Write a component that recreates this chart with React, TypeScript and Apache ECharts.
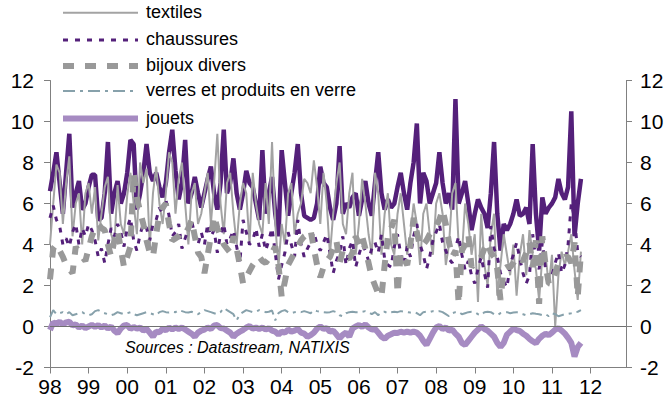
import React, { useEffect, useRef } from "react";
import * as echarts from "echarts";

const yearLabels = ["98", "99", "00", "01", "02", "03", "04", "05", "06", "07", "08", "09", "10", "11", "12"];

const legendNames = ["textiles", "chaussures", "bijoux divers", "verres et produits en verre", "jouets"];

// Monthly values, Jan 1998 - Oct 2011
const ensemble = [
  6.6, 7.5, 8.5, 7.0, 5.5, 7.5, 9.4, 5.8, 6.5, 7.1, 5.7, 6.0,
  6.8, 7.4, 7.4, 5.2, 5.3, 6.5, 9.0, 5.5, 6.5, 7.1, 6.0, 6.5,
  7.5, 9.1, 8.9, 5.7, 6.5, 7.5, 8.9, 7.5, 7.1, 7.5, 6.8, 6.3,
  7.0, 8.5, 9.6, 7.6, 6.2, 7.0, 9.1, 6.0, 6.5, 7.3, 6.5, 5.8,
  6.5, 7.2, 7.8, 6.5, 5.7, 7.0, 9.6, 6.5, 7.0, 8.2, 6.5, 5.7,
  6.5, 7.6, 7.0, 6.8, 6.0, 5.2, 8.6, 5.5, 6.5, 7.3, 5.5, 4.4,
  8.6, 7.0, 5.4, 6.5, 7.5, 8.9, 6.5, 5.4, 5.3, 5.2, 5.3, 6.0,
  7.8, 7.0, 6.8, 5.8, 5.2, 6.0, 8.8, 5.5, 6.0, 5.8, 6.3, 6.5,
  5.4, 6.2, 7.1, 6.0, 5.4, 7.0, 8.5, 6.5, 5.7, 6.2, 5.8, 6.0,
  6.8, 7.5, 6.5, 5.7, 7.0, 8.0, 9.9, 6.0, 7.5, 7.1, 6.0, 6.5,
  7.0, 8.5, 7.0, 6.0, 6.5, 5.7, 11.1, 6.0, 6.5, 7.1, 6.0, 4.7,
  5.5, 6.2, 5.8, 5.5, 4.8, 6.5, 9.0, 5.5, 3.7, 5.0, 4.7, 5.0,
  5.5, 6.2, 5.4, 5.5, 5.8, 5.0, 8.9, 5.5, 3.7, 6.3, 5.5, 5.8,
  6.0, 6.3, 7.2, 6.5, 6.2, 6.8, 10.5, 4.4, 6.0, 7.2,
];

const textiles = [
  4.0, 6.0, 7.9, 7.5, 5.0, 7.0, 8.3, 4.4, 6.0, 6.5, 4.0, 6.5,
  7.0, 5.5, 6.8, 4.2, 5.5, 6.8, 7.3, 4.5, 4.0, 6.9, 5.0, 4.5,
  6.4, 7.5, 6.0, 4.5, 8.0, 7.0, 7.7, 3.9, 6.5, 7.8, 6.0, 5.0,
  6.5, 8.5, 8.0, 5.5, 7.2, 8.0, 6.0, 4.0, 6.5, 7.0, 5.0, 5.5,
  6.5, 7.5, 5.0, 7.0, 9.4, 6.0, 4.5, 7.0, 7.5, 5.5, 4.0, 6.0,
  7.0, 6.5, 4.0, 7.5, 6.0, 5.0, 4.5, 7.0, 5.0, 9.0, 5.0, 2.9,
  5.0, 4.0, 6.5, 7.0, 4.5, 5.5, 6.0, 7.2, 7.0, 6.5, 8.1, 6.8,
  5.0, 7.5, 6.0, 3.5, 5.5, 7.0, 8.0, 5.0, 4.5, 6.5, 7.5, 3.5,
  5.0, 7.2, 6.0, 4.5, 3.5, 7.5, 6.5, 3.5, 5.5, 6.5, 4.0, 3.5,
  5.5, 6.5, 5.0, 3.5, 4.5, 6.0, 5.0, 3.0, 5.5, 6.0, 4.5, 3.5,
  6.0, 6.5, 5.5, 3.0, 4.0, 6.5, 7.0, 4.0, 3.5, 6.0, 5.0, 3.5,
  4.5, 1.2, 5.5, 3.0, 2.0, 4.5, 5.5, 1.5, 3.0, 4.5, 3.5, 2.5,
  4.0, 1.5, 3.5, 4.5, 2.5, 4.7, 3.5, 2.8, 1.3, 3.4, 3.5, 2.0,
  3.5, 0.0, 2.5, 3.65, 3.0, 3.65, 4.5, 2.75, 1.3, 3.65,
];

const chaussures = [
  5.3, 5.9, 5.2, 4.9, 4.0, 4.3, 3.9, 4.6, 5.0, 4.0, 4.8, 4.4,
  5.0, 4.7, 4.2, 3.4, 3.8, 3.1, 4.0, 4.8, 4.4, 5.0, 4.6, 3.9,
  4.8, 5.3, 4.2, 3.7, 4.5, 5.0, 4.8, 4.2, 5.0, 5.2, 5.8, 5.5,
  6.2, 5.4, 4.4, 4.6, 5.0, 3.8, 4.3, 4.8, 5.2, 4.4, 4.0, 4.6,
  4.0, 5.0, 4.4, 4.7, 3.6, 4.5, 5.0, 4.0, 4.3, 4.7, 3.9, 3.1,
  5.2, 4.6, 4.0, 4.2, 4.8, 3.9, 4.5, 3.7, 4.2, 4.8, 3.6, 2.3,
  3.0, 3.6, 4.6, 4.0, 3.4, 5.2, 4.0, 3.4, 3.8, 4.1, 4.6, 4.0,
  3.7, 4.1, 4.5, 3.6, 2.6, 3.2, 3.6, 4.4, 3.0, 3.8, 4.2, 2.9,
  3.5, 4.0, 3.7, 3.2, 3.8, 4.1, 3.6, 4.5, 3.3, 3.0, 2.9, 3.9,
  4.5, 3.5, 3.0, 3.9, 3.4, 4.4, 5.0, 4.0, 3.5, 2.8, 3.4, 4.2,
  4.6, 5.0, 4.1, 3.7, 3.3, 3.1, 3.8, 4.4, 3.5, 2.75, 3.2, 2.5,
  2.1, 2.8, 3.4, 2.6, 1.9, 4.9, 3.8, 3.4, 2.6, 2.2, 1.9, 3.0,
  3.5, 4.1, 3.3, 2.6, 2.1, 2.5, 4.5, 3.2, 2.8, 4.1, 2.8, 2.3,
  2.5, 3.1, 3.6, 2.6, 3.0, 4.0, 6.0, 5.3, 3.6, 3.4,
];

const bijoux = [
  2.3, 3.8, 4.0, 3.7, 3.4, 3.0, 2.8, 2.6, 3.9, 3.6, 3.4, 3.2,
  3.8, 4.4, 4.8, 5.0, 4.8, 4.7, 4.0, 3.4, 4.2, 4.7, 3.8, 2.9,
  3.4, 3.9, 7.5, 6.3, 5.6, 5.0, 4.2, 3.6, 3.4, 4.5, 5.5, 5.8,
  6.0, 5.0, 4.2, 4.3, 4.4, 4.6, 4.5, 4.8, 5.2, 4.4, 3.6, 3.4,
  2.6, 3.5, 4.4, 5.4, 4.8, 4.4, 4.0, 3.8, 3.6, 4.4, 3.8, 3.0,
  2.1, 2.4, 2.7, 3.0, 3.2, 3.4, 3.2, 3.1, 3.3, 3.6, 3.9, 3.0,
  1.45, 2.2, 3.0, 3.3, 3.6, 3.9, 4.2, 4.4, 4.5, 4.7, 3.8, 3.0,
  2.4, 2.9, 3.2, 3.4, 3.8, 4.2, 3.1, 3.7, 3.4, 3.3, 3.6, 4.4,
  4.0, 4.4, 3.8, 3.1, 2.4, 2.0, 1.6, 1.45, 3.0, 4.4, 4.8, 5.2,
  1.6, 3.6, 3.3, 3.0, 4.0, 5.3, 4.6, 3.9, 4.0, 4.2, 4.5, 4.7,
  4.9, 5.2, 5.7, 5.0, 4.1, 3.4, 3.7, 1.1, 3.7, 4.0, 4.5, 2.9,
  3.1, 3.2, 3.4, 3.8, 4.1, 3.6, 3.4, 2.8, 1.3, 2.8, 2.9, 2.9,
  3.1, 3.4, 3.3, 3.2, 3.6, 4.1, 2.9, 4.2, 1.1, 4.4, 3.0, 2.1,
  2.1, 2.6, 3.1, 3.3, 3.4, 3.4, 3.1, 4.1, 1.45, 3.6,
];

const verres = [
  0.45, 0.8, 0.6, 0.65, 0.7, 0.6, 0.7, 0.55, 0.6, 0.65, 0.7, 0.6,
  0.55, 0.6, 0.75, 0.8, 0.7, 0.65, 0.6, 0.55, 0.6, 0.7, 0.65, 0.6,
  0.65, 0.7, 0.6, 0.55, 0.6, 0.65, 0.7, 0.65, 0.6, 0.55, 0.7, 0.75,
  0.7, 0.68, 0.72, 0.7, 0.8, 0.75, 0.7, 0.68, 0.72, 0.65, 0.6, 0.7,
  0.8, 0.75, 0.7, 0.65, 0.6, 0.7, 0.9, 0.8, 0.7, 0.6, 0.3, 0.6,
  0.7, 0.8, 0.75, 0.7, 0.72, 0.8, 0.75, 0.7, 0.72, 0.78, 0.3, 0.65,
  0.75, 0.8, 0.7, 0.65, 0.7, 0.72, 0.7, 0.75, 0.7, 0.65, 0.8, 0.75,
  0.72, 0.7, 0.68, 0.7, 0.75, 0.7, 0.55, 0.5, 0.65, 0.7, 0.72, 0.7,
  0.7, 0.72, 0.75, 0.7, 0.6, 0.7, 0.55, 0.7, 0.72, 0.65, 0.7, 0.72,
  0.7, 0.75, 0.72, 0.7, 0.68, 0.7, 0.65, 0.55, 0.7, 0.72, 0.7, 0.75,
  0.72, 0.75, 0.7, 0.6, 0.5, 0.65, 0.7, 0.72, 0.6, 0.65, 0.7, 0.72,
  0.7, 0.6, 0.55, 0.7, 0.72, 0.7, 0.6, 0.55, 0.65, 0.68, 0.7, 0.65,
  0.68, 0.7, 0.65, 0.6, 0.55, 0.6, 0.65, 0.62, 0.6, 0.55, 0.6, 0.5,
  0.65, 0.6, 0.5, 0.55, 0.6, 0.62, 0.65, 0.7, 0.72, 0.8,
];

const jouets = [
  -0.17, 0.2, 0.12, 0.23, 0.1, 0.2, 0.23, 0.05, 0.1, -0.05, 0.05, -0.08,
  0.0, 0.08, -0.02, 0.07, -0.05, 0.05, -0.1, 0.0, -0.2, -0.33, -0.1, 0.05,
  0.07, -0.12, -0.02, -0.1, -0.05, -0.2, -0.12, -0.3, -0.5, -0.25, -0.28, -0.12,
  -0.18, -0.05, -0.15, -0.05, -0.12, -0.05, -0.15, -0.25, -0.35, -0.5, -0.3, -0.2,
  -0.15, -0.05, -0.12, 0.05, 0.07, -0.08, -0.1, -0.2, -0.3, -0.5, -0.35, -0.25,
  -0.17, -0.05, 0.02, -0.1, -0.05, -0.12, -0.05, -0.15, -0.08, -0.2, -0.25, -0.4,
  -0.25, -0.3, -0.15, -0.25, -0.2, -0.12, -0.3, -0.35, -0.5, -0.42, -0.3, -0.1,
  0.0, -0.12, -0.08, -0.25, -0.2, -0.38, -0.58, -0.4, -0.3, -0.5, -0.1, 0.0,
  0.07, -0.02, 0.1, -0.05, -0.15, -0.12, -0.3, -0.5, -0.6, -0.45, -0.38, -0.3,
  -0.32, -0.25, -0.3, -0.25, -0.3, -0.25, -0.3, -0.45, -0.7, -0.9, -0.6, -0.3,
  -0.05, 0.02, -0.12, -0.05, -0.2, -0.15, -0.35, -0.5, -0.8, -0.9, -0.7, -0.5,
  -0.3, -0.15, 0.0, -0.12, -0.2, -0.35, -0.5, -0.8, -1.0, -0.8, -0.4, -0.25,
  -0.1, -0.18, -0.22, -0.35, -0.45, -0.6, -0.72, -0.82, -0.6, -0.45, -0.35, -0.42,
  -0.3, -0.15, -0.08, -0.2, -0.35, -0.55, -0.8, -1.47, -1.0, -0.8,
];

const FONT = "'Liberation Sans', Arial, sans-serif";

const legendStyles = [
  { color: "#a3a3a3", width: 2, dash: null as number[] | null },
  { color: "#54207a", width: 3, dash: [5, 7] },
  { color: "#999999", width: 6, dash: [11, 11] },
  { color: "#87a1ab", width: 2, dash: [12, 5, 3, 5] },
  { color: "#a68bc2", width: 6, dash: null as number[] | null },
];

export default function App() {
  const ref = useRef<HTMLDivElement>(null);

  useEffect(() => {
    if (!ref.current) return;
    const chart = echarts.init(ref.current, null, { renderer: "svg" });

    const months: string[] = [];
    yearLabels.forEach((y) => {
      for (let m = 1; m <= 12; m++) months.push(y + "-" + m);
    });
    const isYearStart = (i: number) => i % 12 === 0;

    const yAxisBase = {
      type: "value",
      min: -2,
      max: 12,
      interval: 2,
      splitLine: { show: false },
      axisLine: { show: true, lineStyle: { color: "#808080", width: 1 } },
      axisTick: { show: true, inside: false, length: 6, lineStyle: { color: "#808080" } },
      axisLabel: { color: "#000", fontSize: 21, fontFamily: FONT },
    };

    const lineBase = {
      type: "line",
      symbol: "none",
      showSymbol: false,
      smooth: false,
      xAxisIndex: 0,
      yAxisIndex: 0,
    };

    const legendY = [12.7, 40, 66, 91, 118.5];
    const legendGraphics: any[] = [];
    legendNames.forEach((name, i) => {
      const st = legendStyles[i];
      legendGraphics.push({
        type: "line",
        silent: true,
        shape: { x1: 63, y1: legendY[i], x2: 138, y2: legendY[i] },
        style: {
          stroke: st.color,
          lineWidth: st.width,
          lineDash: st.dash || undefined,
        },
      });
      legendGraphics.push({
        type: "text",
        silent: true,
        x: 146,
        y: legendY[i] - 1,
        style: {
          text: name,
          fill: "#000",
          font: "18px " + FONT,
          verticalAlign: "middle",
          align: "left",
        },
      });
    });

    chart.setOption({
      animation: false,
      backgroundColor: "#fff",
      grid: { left: 50, right: 42, top: 80.5, bottom: 39.5, containLabel: false },
      graphic: [
        {
          type: "text",
          left: 228,
          top: -22,
          style: {
            text: "(GA en %, mm à 3 mois)",
            fill: "#6a2a8c",
            font: "bold 20px " + FONT,
          },
          silent: true,
        },
        {
          type: "text",
          left: 125,
          top: 339,
          style: {
            text: "Sources : Datastream, NATIXIS",
            fill: "#000",
            font: "italic 16px " + FONT,
          },
          silent: true,
        },
        ...legendGraphics,
      ],
      xAxis: {
        type: "category",
        data: months,
        boundaryGap: false,
        axisLine: { show: true, onZero: false, lineStyle: { color: "#808080", width: 1 } },
        axisTick: { show: true, inside: false, length: 6, interval: (i: number) => isYearStart(i), lineStyle: { color: "#808080" } },
        axisLabel: {
          interval: (i: number) => isYearStart(i),
          formatter: (v: string) => v.split("-")[0],
          color: "#000",
          fontSize: 21,
          fontFamily: FONT,
          margin: 8,
        },
        splitLine: { show: false },
      },
      yAxis: [
        { ...yAxisBase, position: "left", axisLabel: { ...yAxisBase.axisLabel, margin: 16 } },
        { ...yAxisBase, position: "right", axisLabel: { ...yAxisBase.axisLabel, margin: 14 } },
      ],
      series: [
        {
          ...lineBase,
          name: "ensemble",
          data: ensemble,
          lineStyle: { color: "#54207a", width: 4.5 },
          itemStyle: { color: "#54207a" },
          markLine: {
            silent: true,
            symbol: "none",
            label: { show: false },
            lineStyle: { color: "#707070", width: 1, type: "solid" },
            data: [{ yAxis: 0 }],
          },
        },
        {
          ...lineBase,
          name: "textiles",
          data: textiles,
          lineStyle: { color: "#a3a3a3", width: 2 },
          itemStyle: { color: "#a3a3a3" },
        },
        {
          ...lineBase,
          name: "chaussures",
          data: chaussures,
          lineStyle: { color: "#54207a", width: 3, type: [5, 7] },
          itemStyle: { color: "#54207a" },
        },
        {
          ...lineBase,
          name: "bijoux divers",
          data: bijoux,
          lineStyle: { color: "#999999", width: 6, type: [11, 11] },
          itemStyle: { color: "#999999" },
        },
        {
          ...lineBase,
          name: "verres et produits en verre",
          data: verres,
          lineStyle: { color: "#87a1ab", width: 2, type: [12, 5, 3, 5] },
          itemStyle: { color: "#87a1ab" },
        },
        {
          ...lineBase,
          name: "jouets",
          data: jouets,
          lineStyle: { color: "#a68bc2", width: 6 },
          itemStyle: { color: "#a68bc2" },
        },
      ],
    });

    return () => chart.dispose();
  }, []);

  return <div ref={ref} style={{ width: 668, height: 407, position: "absolute", left: 0, top: 0 }} />;
}
